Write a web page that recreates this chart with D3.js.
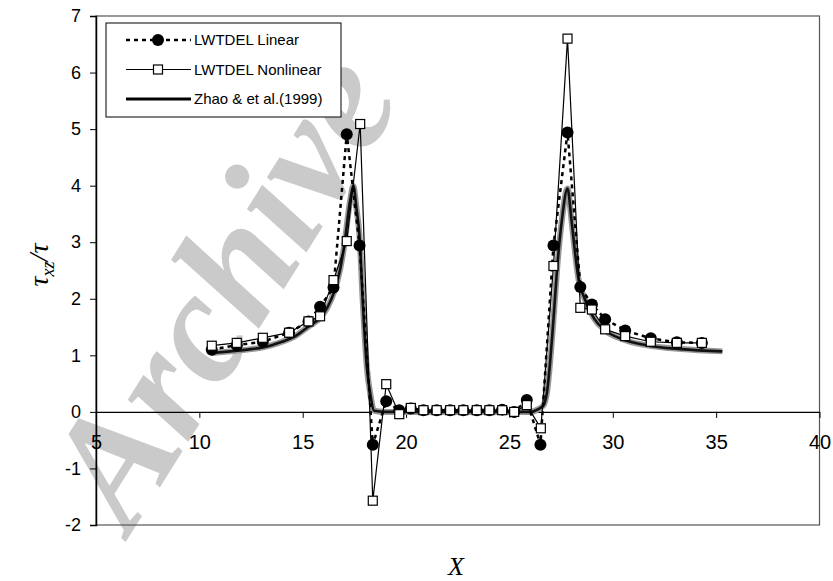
<!DOCTYPE html>
<html>
<head>
<meta charset="utf-8">
<script src="https://cdn.jsdelivr.net/npm/d3@7"></script>
<style>
  body { margin: 0; background: #fff; }
  svg text { font-family: 'Liberation Sans', Arial, sans-serif; fill: #000; }
  svg .tick line, svg .domain { stroke: #000; }
  svg .serif { font-family: 'Liberation Serif', 'Times New Roman', serif; font-style: italic; }
</style>
</head>
<body>
<div id="chart"></div>
<script>
  // values
  var xLinear = [10.6, 11.81, 13.07, 14.34, 15.28, 15.84, 16.49, 17.13, 17.75, 18.39, 19.04, 19.67,
    20.23, 20.84, 21.48, 22.13, 22.77, 23.42, 24.03, 24.65, 25.23, 25.84, 26.5, 27.13, 27.81,
    28.43, 28.99, 29.63, 30.6, 31.84, 33.1, 34.31];
  var yLinear = [1.10, 1.18, 1.24, 1.40, 1.60, 1.86, 2.20, 4.91, 2.94, -0.58, 0.19, 0.03,
    0.06, 0.03, 0.03, 0.03, 0.03, 0.03, 0.03, 0.04, 0.00, 0.21, -0.58, 2.94, 4.94,
    2.21, 1.90, 1.64, 1.44, 1.30, 1.23, 1.22];

  var xNonlinear = [10.6, 11.81, 13.07, 14.34, 15.28, 15.84, 16.49, 17.13, 17.78, 18.39, 19.04, 19.67,
    20.23, 20.84, 21.48, 22.13, 22.77, 23.42, 24.03, 24.65, 25.23, 25.84, 26.52, 27.13, 27.81,
    28.43, 28.99, 29.63, 30.6, 31.84, 33.1, 34.31];
  var yNonlinear = [1.17, 1.22, 1.31, 1.40, 1.60, 1.69, 2.33, 3.02, 5.09, -1.57, 0.49, -0.04,
    0.07, 0.03, 0.03, 0.03, 0.03, 0.03, 0.03, 0.03, 0.00, 0.12, -0.29, 2.58, 6.60,
    1.84, 1.81, 1.46, 1.34, 1.24, 1.22, 1.22];

  var xZhao = [10.6, 11.5, 12.5, 13.07, 14.0, 14.6, 15.28, 15.84, 16.2, 16.5, 16.8, 17.0, 17.3, 17.45,
    17.6, 17.75, 17.9, 18.1, 18.29, 18.45, 19.0, 20.0, 22.0, 24.0, 26.0, 26.4, 26.65, 26.81, 27.13,
    27.3, 27.54, 27.81, 28.0, 28.18, 28.35, 28.6, 29.1, 29.6, 30.5, 31.6, 33.3, 35.3];
  var yZhao = [1.04, 1.07, 1.11, 1.14, 1.24, 1.33, 1.51, 1.66, 1.85, 2.1, 2.5, 2.92, 3.75, 4.0,
    3.6, 3.1, 1.98, 0.8, 0.27, 0.02, 0.0, 0.0, 0.0, 0.0, 0.0, 0.05, 0.12, 0.33, 1.63,
    2.5, 3.4, 3.95, 3.4, 2.8, 2.33, 2.04, 1.65, 1.45, 1.28, 1.18, 1.11, 1.07];

  var xTicks = [5, 10, 15, 20, 25, 30, 35, 40];
  var yTicks = [-2, -1, 0, 1, 2, 3, 4, 5, 6, 7];
  var seriesNames = ["LWTDEL Linear", "LWTDEL Nonlinear", "Zhao & et al.(1999)"];

  var width = 833, height = 581;

  var svg = d3.select("#chart").append("svg")
    .attr("width", width)
    .attr("height", height);

  var x = d3.scaleLinear().domain([5, 40]).range([96, 819.5]);
  var y = d3.scaleLinear().domain([-2, 7]).range([525, 16]);

  // watermark
  svg.append("text")
    .attr("class", "serif")
    .attr("transform", "translate(130,535) rotate(-58)")
    .style("font-size", "160px")
    .style("font-weight", "bold")
    .style("fill", "#cacaca")
    .text("Archive");

  // frame
  svg.append("rect")
    .attr("x", x(5)).attr("y", y(7))
    .attr("width", x(40) - x(5)).attr("height", y(-2) - y(7))
    .attr("fill", "none")
    .attr("stroke", "#555")
    .attr("stroke-width", 1.2);

  var yAxis = svg.append("g")
    .attr("transform", "translate(" + x(5) + ",0)")
    .call(d3.axisLeft(y).tickValues(yTicks).tickSize(6).tickPadding(9)
      .tickFormat(function(d) { return String(d); }));
  yAxis.selectAll("text").style("font-size", "18px");
  yAxis.select(".domain").attr("stroke-width", 1.5);

  var xAxis = svg.append("g")
    .attr("transform", "translate(0," + y(0) + ")")
    .call(d3.axisBottom(x).tickValues(xTicks).tickSize(6).tickSizeOuter(0)
      .tickFormat(function(d) { return String(d); }));
  xAxis.selectAll("text").style("font-size", "20px").attr("y", 30).attr("dy", "0.35em");
  xAxis.select(".domain").attr("stroke-width", 1.3);

  var zhao = xZhao.map(function(d, i) { return [d, yZhao[i]]; });
  var linear = xLinear.map(function(d, i) { return [d, yLinear[i]]; });
  var nonlinear = xNonlinear.map(function(d, i) { return [d, yNonlinear[i]]; });

  var smooth = d3.line()
    .x(function(d) { return x(d[0]); })
    .y(function(d) { return y(d[1]); })
    .curve(d3.curveMonotoneX);
  var straight = d3.line()
    .x(function(d) { return x(d[0]); })
    .y(function(d) { return y(d[1]); });

  // zhao curve: grey halo + dark core
  svg.append("path").datum(zhao)
    .attr("d", smooth)
    .attr("fill", "none")
    .attr("stroke", "#999")
    .attr("stroke-width", 6);
  svg.append("path").datum(zhao)
    .attr("d", smooth)
    .attr("fill", "none")
    .attr("stroke", "#111")
    .attr("stroke-width", 2.6);

  svg.append("path").datum(linear)
    .attr("d", straight)
    .attr("fill", "none")
    .attr("stroke", "#000")
    .attr("stroke-width", 2.5)
    .attr("stroke-dasharray", "4,4");

  svg.append("path").datum(nonlinear)
    .attr("d", straight)
    .attr("fill", "none")
    .attr("stroke", "#000")
    .attr("stroke-width", 1.2);

  svg.append("g").selectAll("circle")
    .data(linear)
    .enter().append("circle")
    .attr("cx", function(d) { return x(d[0]); })
    .attr("cy", function(d) { return y(d[1]); })
    .attr("r", 6)
    .attr("fill", "#000");

  svg.append("g").selectAll("rect")
    .data(nonlinear)
    .enter().append("rect")
    .attr("x", function(d) { return x(d[0]) - 4.5; })
    .attr("y", function(d) { return y(d[1]) - 4.5; })
    .attr("width", 9).attr("height", 9)
    .attr("fill", "#fff")
    .attr("stroke", "#000")
    .attr("stroke-width", 1.2);

  // legend
  var legend = svg.append("g");
  legend.append("rect")
    .attr("x", 106).attr("y", 23).attr("width", 235).attr("height", 94)
    .attr("fill", "#fff").attr("stroke", "#000").attr("stroke-width", 1);

  var rows = legend.selectAll("g.row")
    .data(seriesNames)
    .enter().append("g")
    .attr("class", "row")
    .attr("transform", function(d, i) { return "translate(0," + (40 + i * 29.5) + ")"; });

  rows.append("line")
    .attr("x1", 126).attr("x2", 191).attr("y1", 0).attr("y2", 0)
    .attr("stroke", "#000")
    .attr("stroke-width", function(d, i) { return [2.5, 1.2, 3][i]; })
    .attr("stroke-dasharray", function(d, i) { return i == 0 ? "4,4" : null; });

  rows.filter(function(d, i) { return i == 0; }).append("circle")
    .attr("cx", 158).attr("cy", 0).attr("r", 6).attr("fill", "#000");
  rows.filter(function(d, i) { return i == 1; }).append("rect")
    .attr("x", 153.5).attr("y", -4.5).attr("width", 9).attr("height", 9)
    .attr("fill", "#fff").attr("stroke", "#000").attr("stroke-width", 1.2);

  rows.append("text")
    .attr("x", 194).attr("y", 0).attr("dy", "0.35em")
    .style("font-size", "15px")
    .text(function(d) { return d; });

  // axis titles
  var yt = svg.append("text")
    .attr("class", "serif")
    .attr("transform", "translate(48,265) rotate(-90)")
    .attr("text-anchor", "middle")
    .style("font-size", "28px");
  yt.append("tspan").text("τ");
  yt.append("tspan").attr("dy", 6).style("font-size", "18px").text("xz");
  yt.append("tspan").attr("dy", -6).text("/τ");

  svg.append("text")
    .attr("class", "serif")
    .attr("x", 456).attr("y", 575)
    .attr("text-anchor", "middle")
    .style("font-size", "26px")
    .text("X");
</script>
</body>
</html>
